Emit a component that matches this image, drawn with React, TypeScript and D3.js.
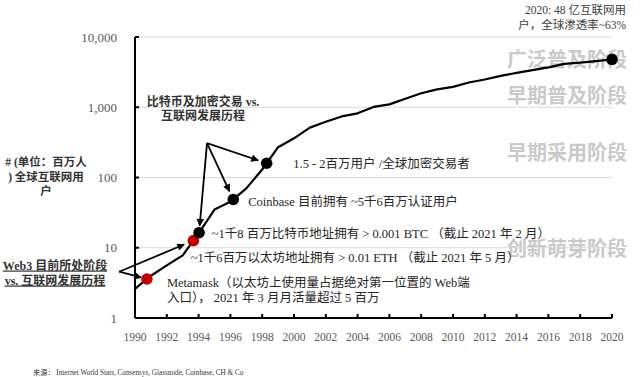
import React from "react";
import * as d3 from "d3";

// ---------- data ----------
const years = [
  1990, 1991, 1992, 1993, 1994, 1995, 1996, 1997, 1998, 1999, 2000, 2001, 2002, 2003, 2004, 2005,
  2006, 2007, 2008, 2009, 2010, 2011, 2012, 2013, 2014, 2015, 2016, 2017, 2018, 2019, 2020,
];
const internetUsers = [
  2.6, 4.0, 5.6, 7.8, 16, 35, 45, 70, 130, 270, 361, 513, 620, 740, 820, 1010,
  1100, 1320, 1580, 1800, 1950, 2250, 2480, 2800, 3080, 3370, 3700, 4150, 4310, 4540, 4800,
];

const yTickValues = [1, 10, 100, 1000, 10000];
const xTickValues = d3.range(1990, 2021, 2);

// milestones placed on the curve (year)
const milestoneYears = [1990.75, 1993.67, 1994.03, 1996.18, 1998.28, 2020];
const milestoneGroup = ["web3", "web3", "crypto", "crypto", "crypto", "internet"];
const milestoneLabels = [
  ["Metamask（以太坊上使用量占据绝对第一位置的 Web端", "入口）， 2021 年 3 月月活量超过 5 百万"],
  ["~1千6百万以太坊地址拥有  > 0.01 ETH （截止 2021 年 5 月）"],
  ["~1千8 百万比特币地址拥有 > 0.001 BTC （截止 2021 年 2 月）"],
  ["Coinbase 目前拥有  ~5千6百万认证用户"],
  ["1.5 - 2百万用户 /全球加密交易者"],
  ["2020: 48 亿互联网用", "户，全球渗透率~63%"],
];

const stageLabels = ["广泛普及阶段", "早期普及阶段", "早期采用阶段", "创新萌芽阶段"];
const stageLevels = [4700, 1440, 222, 9.6];

const yAxisTitle = ["# (单位：百万人", ") 全球互联网用", "户"];
const cryptoTitle = ["比特币及加密交易 vs.", "互联网发展历程"];
const web3Title = ["Web3 目前所处阶段", "vs. 互联网发展历程"];
const sourceText = "来源：  Internet World Stats, Consensys, Glassnode, Coinbase, CH & Co";

// arrow origins (data coords)
const cryptoArrowOrigin = { year: 1994.53, value: 308 };
const web3ArrowOrigin = { year: 1989.0, value: 4.56 };

// ---------- layout ----------
const W = 640;
const H = 377;
const X0 = 135;
const X1 = 612;
const Y0 = 318;
const Y1 = 37;

const SERIF = "'Liberation Serif', 'Noto Sans CJK SC', serif";
const CJK = "'Noto Sans CJK SC', 'Liberation Serif', sans-serif";

export default function App() {
  const x = d3.scaleLinear().domain([1990, 2020]).range([X0, X1]);
  const y = d3.scaleLog().domain([1, 10000]).range([Y0, Y1]);

  const pts = years.map((yr, i) => ({ yr, v: internetUsers[i] }));
  const line = d3
    .line<{ yr: number; v: number }>()
    .x((d) => x(d.yr))
    .y((d) => y(d.v));

  // value on the curve at fractional year (log interpolation)
  const valueAt = (yr: number) => {
    const i = Math.min(Math.max(d3.bisectRight(years, yr) - 1, 0), years.length - 2);
    const t = (yr - years[i]) / (years[i + 1] - years[i]);
    const a = Math.log10(internetUsers[i]);
    const b = Math.log10(internetUsers[i + 1]);
    return Math.pow(10, a + (b - a) * t);
  };

  const dots = milestoneYears.map((yr, i) => ({
    cx: x(yr),
    cy: y(valueAt(yr)),
    group: milestoneGroup[i],
    labels: milestoneLabels[i],
  }));

  const arrowTo = (o: { year: number; value: number }, tx: number, ty: number, gap: number) => {
    const ox = x(o.year);
    const oy = y(o.value);
    const dx = tx - ox;
    const dy = ty - oy;
    const d = Math.hypot(dx, dy);
    const k = (d - gap) / d;
    return { x1: ox, y1: oy, x2: ox + dx * k, y2: oy + dy * k };
  };

  const arrows = [
    arrowTo(cryptoArrowOrigin, dots[4].cx, dots[4].cy, 9),
    arrowTo(cryptoArrowOrigin, dots[3].cx, dots[3].cy, 9),
    arrowTo(cryptoArrowOrigin, dots[2].cx, dots[2].cy, 7),
    arrowTo(web3ArrowOrigin, dots[1].cx, dots[1].cy, 10),
    arrowTo(web3ArrowOrigin, dots[0].cx, dots[0].cy, 6),
  ];

  // label offsets relative to dots: [dx, dyCenterLine1, lineHeight, anchor]
  const labelLayout: [number, number, number, "start" | "end"][] = [
    [20, 3.5, 15, "start"],
    [-2.6, 16.6, 15, "start"],
    [12.7, 0.6, 15, "start"],
    [15, 1.7, 15, "start"],
    [26.6, 0, 15, "start"],
    [0, 0, 14.5, "end"],
  ];
  const labelFs = 12.5;

  return (
    <svg
      width={W}
      height={H}
      style={{ position: "fixed", left: 0, top: 0, background: "#fff" }}
      xmlns="http://www.w3.org/2000/svg"
    >
      <defs>
        <marker
          id="ah"
          viewBox="0 0 10 10"
          refX="9"
          refY="5"
          markerWidth="8.5"
          markerHeight="7.5"
          markerUnits="userSpaceOnUse"
          orient="auto"
        >
          <path d="M0,0 L10,5 L0,10 z" fill="#000" />
        </marker>
      </defs>
      <rect x={0} y={0} width={W} height={H} fill="#fff" />

      {/* stage labels */}
      {stageLabels.map((s, i) => (
        <text
          key={s}
          x={627}
          y={y(stageLevels[i]) + 7.2}
          textAnchor="end"
          fontFamily={CJK}
          fontWeight={700}
          fontSize={20}
          fill="#c9c9c9"
        >
          {s}
        </text>
      ))}

      {/* gridlines */}
      {yTickValues.slice(1).map((v) => (
        <line key={v} x1={X0} x2={X1} y1={y(v)} y2={y(v)} stroke="#d9d9d9" strokeWidth={1} />
      ))}

      {/* y axis */}
      <line x1={X0} x2={X0} y1={Y1} y2={Y0} stroke="#000" strokeWidth={2} />
      {yTickValues.map((v) => (
        <g key={v}>
          <line x1={X0} x2={X0 + 4} y1={y(v)} y2={y(v)} stroke="#000" strokeWidth={2} />
          <text
            x={117}
            y={y(v) + 4.5}
            textAnchor="end"
            fontFamily={SERIF}
            fontSize={13}
            fill="#595959"
          >
            {d3.format(",")(v)}
          </text>
        </g>
      ))}

      {/* x axis */}
      <line x1={X0} x2={X1} y1={Y0} y2={Y0} stroke="#000" strokeWidth={2} />
      {xTickValues.map((t) => (
        <g key={t}>
          <line x1={x(t)} x2={x(t)} y1={Y0} y2={Y0 - 4} stroke="#000" strokeWidth={2} />
          <text
            x={x(t)}
            y={Y0 + 23}
            textAnchor="middle"
            fontFamily={SERIF}
            fontSize={11.5}
            fill="#595959"
          >
            {t}
          </text>
        </g>
      ))}

      {/* data line */}
      <path d={line(pts) || ""} fill="none" stroke="#000" strokeWidth={2.2} strokeLinejoin="round" />

      {/* arrows */}
      {arrows.map((a, i) => (
        <line
          key={i}
          x1={a.x1}
          y1={a.y1}
          x2={a.x2}
          y2={a.y2}
          stroke="#000"
          strokeWidth={1.8}
          markerEnd="url(#ah)"
        />
      ))}

      {/* dots */}
      {dots.map((d, i) => (
        <circle
          key={i}
          cx={d.cx}
          cy={d.cy}
          r={5.8}
          fill={d.group === "web3" ? "#c00000" : "#000"}
        />
      ))}

      {/* dot labels */}
      {dots.map((d, i) => {
        const [dx, dy, lh, anchor] = labelLayout[i];
        const bx = anchor === "end" ? 626 : d.cx + dx;
        const by = anchor === "end" ? 10 : d.cy + dy;
        return (
          <text
            key={i}
            textAnchor={anchor}
            fontFamily={SERIF}
            fontSize={anchor === "end" ? 11.5 : labelFs}
            fill={anchor === "end" ? "#404040" : "#262626"}
          >
            {d.labels.map((l, j) => (
              <tspan key={j} x={bx} y={by + j * lh + 4.4}>
                {l}
              </tspan>
            ))}
          </text>
        );
      })}

      {/* crypto title */}
      <text textAnchor="middle" fontFamily={SERIF} fontWeight={700} fontSize={12} fill="#333">
        {cryptoTitle.map((l, j) => (
          <tspan key={j} x={203} y={106 + j * 14}>
            {l}
          </tspan>
        ))}
      </text>

      {/* y axis title */}
      <text textAnchor="middle" fontFamily={SERIF} fontWeight={700} fontSize={11.5} fill="#333">
        {yAxisTitle.map((l, j) => (
          <tspan key={j} x={46} y={166 + j * 14.5}>
            {l}
          </tspan>
        ))}
      </text>

      {/* web3 title */}
      <text
        textAnchor="middle"
        fontFamily={SERIF}
        fontWeight={700}
        fontSize={12}
        fill="#333"
        textDecoration="underline"
      >
        {web3Title.map((l, j) => (
          <tspan key={j} x={55} y={269.5 + j * 15}>
            {l}
          </tspan>
        ))}
      </text>

      {/* source */}
      <text x={33} y={374.5} fontFamily={SERIF} fontSize={7.2} fill="#333">
        {sourceText}
      </text>
    </svg>
  );
}
